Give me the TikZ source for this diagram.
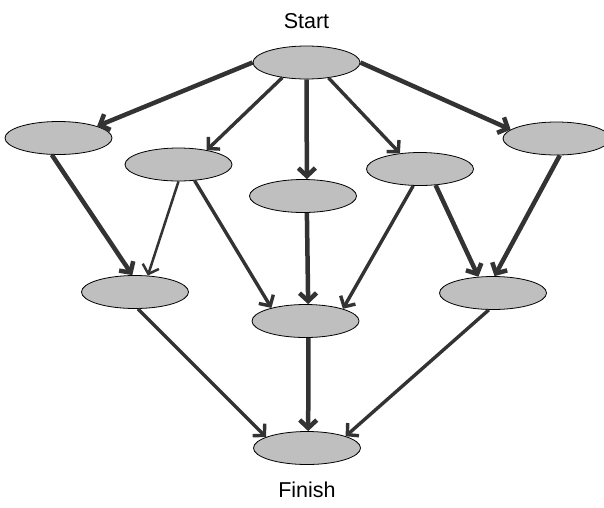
\documentclass[tikz,border=0pt]{standalone}
\usepackage{fontspec}
\setmainfont{Liberation Sans}
\usetikzlibrary{shapes.geometric,arrows.meta}
\begin{document}
\begin{tikzpicture}[
	x=1pt, y=-1pt,
	task/.style={ ellipse, draw=black, line width=0.8pt, fill=black!25, inner sep=0pt, minimum width=107pt, minimum height=33pt },
	link/.style={ draw=black!80, -{Straight Barb[length=8pt,width=17pt]} },
	heavy/.style={ link, line width=4.5pt },
	mid/.style={ link, line width=3.4pt },
	light/.style={ link, line width=2.5pt },
	every label/.style={ font=\fontsize{21.5}{24}\selectfont }
]
\useasboundingbox (0,0) rectangle (604,507);

\node at (306.5,62.5) (s) [task,label={[label distance=13pt]above:Start}] {};
\node at (58.5,138) (a) [task] {};
\node at (178.5,164.5) (b) [task] {};
\node at (303,196) (c) [task] {};
\node at (420,169) (d) [task] {};
\node at (556.5,138.5) (e) [task] {};
\node at (135,292) (f) [task] {};
\node at (305.5,321) (g) [task] {};
\node at (493,293) (h) [task] {};
\node at (307,448) (fin) [task,label={[label distance=13pt]below:Finish}] {};

\draw [heavy] (s.west) to (a.17);
\draw [mid] (s.212) to (b.27);
\draw [heavy] (s.south) to (c.77);
\draw [mid] (s.325) to (d.142);
\draw [heavy] (s.east) to (e.169);

\draw [heavy] (a.248) to (f.99);
\draw [light] (b.270) to (f.52);
\draw [mid] (b.315) to (g.159);
\draw [heavy] (c.283) to (g.81);
\draw [mid] (d.248) to (g.18);
\draw [heavy] (d.314) to (h.132);
\draw [heavy] (e.281) to (h.85);

\draw [mid] (f.280) to (fin.165);
\draw [heavy] (g.280) to (fin.86);
\draw [mid] (h.256) to (fin.17);

\end{tikzpicture}
\end{document}
